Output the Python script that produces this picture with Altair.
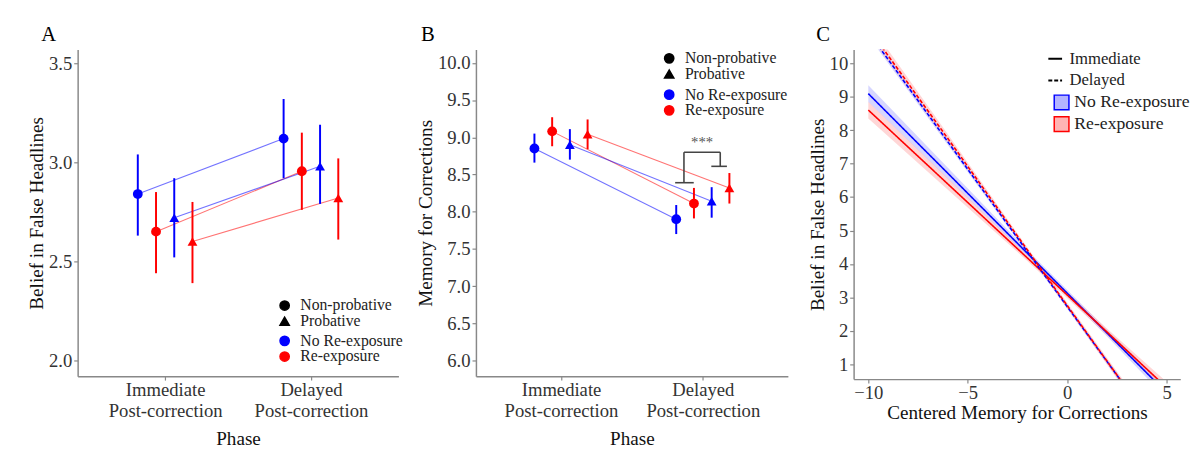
import json
import altair as alt
import pandas as pd

FONT = "Liberation Serif"
BLUE = "#0000ff"
RED = "#ff0000"
BAND_BLUE = "#b4b4ff"
BAND_RED = "#ffb4b4"

# ---------------- data ----------------
phase_pos = [1, 2]
phase_labels = [["Immediate", "Post-correction"], ["Delayed", "Post-correction"]]
probative_levels = ["Non-probative", "Probative"]
exposure_levels = ["No Re-exposure", "Re-exposure"]

# Panel A: belief in false headlines (mean, lower, upper) for [Immediate, Delayed]
a_np_no_mean = [2.84, 3.12]
a_np_no_lo = [2.63, 2.92]
a_np_no_hi = [3.04, 3.32]
a_np_re_mean = [2.65, 2.955]
a_np_re_lo = [2.44, 2.76]
a_np_re_hi = [2.85, 3.15]
a_p_no_mean = [2.72, 2.98]
a_p_no_lo = [2.52, 2.79]
a_p_no_hi = [2.92, 3.19]
a_p_re_mean = [2.60, 2.82]
a_p_re_lo = [2.39, 2.61]
a_p_re_hi = [2.80, 3.02]

# Panel B: memory for corrections
b_np_no_mean = [8.85, 7.90]
b_np_no_lo = [8.66, 7.70]
b_np_no_hi = [9.05, 8.09]
b_np_re_mean = [9.08, 8.11]
b_np_re_lo = [8.88, 7.91]
b_np_re_hi = [9.27, 8.32]
b_p_no_mean = [8.90, 8.14]
b_p_no_lo = [8.70, 7.92]
b_p_no_hi = [9.11, 8.33]
b_p_re_mean = [9.04, 8.32]
b_p_re_lo = [8.84, 8.11]
b_p_re_hi = [9.24, 8.52]

# significance bracket in panel B (data units):
# top bar, left foot, right leg, right foot, left leg
sig_x = [1.867, 1.805, 2.123, 2.06, 1.867]
sig_x2 = [2.123, 1.936, 2.123, 2.17, 1.867]
sig_y = [8.80, 8.39, 8.80, 8.61, 8.80]
sig_y2 = [8.80, 8.39, 8.61, 8.61, 8.39]
sig_label = "***"
sig_label_x = 1.995
sig_label_y = 8.93

# Panel C: fitted lines with confidence bands
c_x = [-10, -6, -2, 2, 5]
c_imm_no_fit = [9.09, 6.71, 4.32, 1.94, 0.15]
c_imm_no_lo = [8.84, 6.54, 4.23, 1.84, -0.02]
c_imm_no_hi = [9.34, 6.88, 4.41, 2.04, 0.32]
c_imm_re_fit = [8.60, 6.39, 4.18, 1.97, 0.31]
c_imm_re_lo = [8.35, 6.22, 4.09, 1.87, 0.14]
c_imm_re_hi = [8.85, 6.56, 4.27, 2.07, 0.48]
c_del_no_fit = [10.93, 7.65, 4.37, 1.09, -1.37]
c_del_no_lo = [10.81, 7.56, 4.31, 1.02, -1.47]
c_del_no_hi = [11.05, 7.74, 4.43, 1.16, -1.27]
c_del_re_fit = [11.05, 7.75, 4.42, 1.10, -1.38]
c_del_re_lo = [10.87, 7.62, 4.35, 1.00, -1.52]
c_del_re_hi = [11.23, 7.88, 4.49, 1.20, -1.24]
c_phases = ["Immediate", "Delayed"]

# ---------------- build tables ----------------
DODGE = {("Non-probative", "No Re-exposure"): -0.1875,
         ("Non-probative", "Re-exposure"): -0.0625,
         ("Probative", "No Re-exposure"): 0.0625,
         ("Probative", "Re-exposure"): 0.1875}


def long_table(series):
    rows = []
    for (prob, expo), (m, lo, hi) in series.items():
        for i, p in enumerate(phase_pos):
            rows.append(dict(series=prob + "|" + expo, probative=prob, exposure=expo,
                             xpos=p + DODGE[(prob, expo)], mean=m[i], lo=lo[i], hi=hi[i]))
    return pd.DataFrame(rows)


df_a = long_table({
    ("Non-probative", "No Re-exposure"): (a_np_no_mean, a_np_no_lo, a_np_no_hi),
    ("Non-probative", "Re-exposure"): (a_np_re_mean, a_np_re_lo, a_np_re_hi),
    ("Probative", "No Re-exposure"): (a_p_no_mean, a_p_no_lo, a_p_no_hi),
    ("Probative", "Re-exposure"): (a_p_re_mean, a_p_re_lo, a_p_re_hi),
})
df_b = long_table({
    ("Non-probative", "No Re-exposure"): (b_np_no_mean, b_np_no_lo, b_np_no_hi),
    ("Non-probative", "Re-exposure"): (b_np_re_mean, b_np_re_lo, b_np_re_hi),
    ("Probative", "No Re-exposure"): (b_p_no_mean, b_p_no_lo, b_p_no_hi),
    ("Probative", "Re-exposure"): (b_p_re_mean, b_p_re_lo, b_p_re_hi),
})

rows = []
for phase, expo, fit, lo, hi in [
    ("Immediate", "No Re-exposure", c_imm_no_fit, c_imm_no_lo, c_imm_no_hi),
    ("Immediate", "Re-exposure", c_imm_re_fit, c_imm_re_lo, c_imm_re_hi),
    ("Delayed", "No Re-exposure", c_del_no_fit, c_del_no_lo, c_del_no_hi),
    ("Delayed", "Re-exposure", c_del_re_fit, c_del_re_lo, c_del_re_hi),
]:
    for i, xv in enumerate(c_x):
        rows.append(dict(phase=phase, exposure=expo,
                         series=phase + "|" + expo, x=xv, fit=fit[i], lo=lo[i], hi=hi[i]))
df_c = pd.DataFrame(rows)

df_sig = pd.DataFrame(dict(x=sig_x, x2=sig_x2, y=sig_y, y2=sig_y2))
df_sig_txt = pd.DataFrame(dict(x=[sig_label_x], y=[sig_label_y], t=[sig_label]))

# ---------------- helpers ----------------
color_scale = alt.Scale(domain=exposure_levels, range=[BLUE, RED])
band_scale = alt.Scale(domain=exposure_levels, range=[BAND_BLUE, BAND_RED])
shape_scale = alt.Scale(domain=probative_levels, range=["circle", "triangle-up"])

label_expr = " : ".join(
    f"datum.value == {p} ? {json.dumps(l)}" for p, l in zip(phase_pos[:-1], phase_labels[:-1])
) + " : " + json.dumps(phase_labels[-1])

x_axis = alt.Axis(values=phase_pos, labelExpr=label_expr, title="Phase",
                  labelLineHeight=21, labelPadding=1, titlePadding=10)


def xenc(field):
    return alt.X(field, type="quantitative", scale=alt.Scale(domain=[0.4, 2.6], nice=False, zero=False),
                 axis=x_axis)


def letter_title(letter, dx):
    return alt.TitleParams(letter, anchor="start", frame="group", dx=dx, font=FONT, fontSize=21,
                           fontWeight="normal", color="black", offset=5)


def dodge_panel(df, ydom, yticks, ytitle, letter, dx, width, height, shape_xy, color_xy, extra=None):
    y_axis = alt.Axis(values=yticks, format=".1f", title=ytitle, titlePadding=2)

    def yenc(field):
        return alt.Y(field, type="quantitative",
                     scale=alt.Scale(domain=ydom, nice=False, zero=False), axis=y_axis)

    color_legend = alt.Legend(orient="none", legendX=color_xy[0], legendY=color_xy[1],
                              title=None, symbolType="circle", symbolSize=90, symbolOpacity=1,
                              labelFont=FONT, labelFontSize=16, labelColor="#222",
                              rowPadding=0, padding=0, labelOffset=8)
    shape_legend = alt.Legend(orient="none", legendX=shape_xy[0], legendY=shape_xy[1],
                              title=None, symbolSize=90, symbolFillColor="black",
                              symbolStrokeColor="black", symbolOpacity=1,
                              labelFont=FONT, labelFontSize=16, labelColor="#222",
                              rowPadding=0, padding=0, labelOffset=8)
    color = alt.Color("exposure:N", scale=color_scale, legend=color_legend)

    base = alt.Chart(df)
    lines = base.mark_line(strokeWidth=1.1, opacity=0.55).encode(
        x=xenc("xpos"), y=yenc("mean"), color=color, detail="series:N")
    errs = base.mark_rule(strokeWidth=2).encode(
        x=xenc("xpos"), y=yenc("lo"), y2="hi:Q", color=color)
    pts = base.mark_point(filled=True, size=100, opacity=1).encode(
        x=xenc("xpos"), y=yenc("mean"), color=color,
        shape=alt.Shape("probative:N", scale=shape_scale, legend=shape_legend))
    layers = [lines, errs, pts]
    if extra is not None:
        layers += extra(yenc)
    return alt.layer(*layers).properties(width=width, height=height,
                                         title=letter_title(letter, dx))


def sig_layers(yenc_):
    seg = alt.Chart(df_sig).mark_rule(color="#444444", strokeWidth=1.6).encode(
        x=xenc("x"), x2="x2:Q", y=yenc_("y"), y2="y2:Q")
    txt = alt.Chart(df_sig_txt).mark_text(font=FONT, fontSize=15, color="#555555",
                                          baseline="middle").encode(
        x=xenc("x"), y=yenc_("y"), text="t:N")
    return [seg, txt]


panel_a = dodge_panel(df_a, [1.92, 3.57], [2.0, 2.5, 3.0, 3.5], "Belief in False Headlines",
                      "A", -37, 327, 333, (203, 253), (203, 289))
panel_b = dodge_panel(df_b, [5.79, 10.18], [6.0, 6.5, 7.0, 7.5, 8.0, 8.5, 9.0, 9.5, 10.0],
                      "Memory for Corrections", "B", -56, 318, 333, (189, 1), (189, 38),
                      extra=sig_layers)

# Panel C
cx = alt.X("x:Q", scale=alt.Scale(domain=[-10.74, 5.69], nice=False, zero=False),
           axis=alt.Axis(values=[-10, -5, 0, 5], title="Centered Memory for Corrections",
                         labelPadding=1, titlePadding=1))
cy_axis = alt.Axis(values=list(range(1, 11)), title="Belief in False Headlines", titlePadding=2)
cy_scale = alt.Scale(domain=[0.56, 10.41], nice=False, zero=False)

c_exp_legend = alt.Legend(orient="none", legendX=203, legendY=45, title=None,
                          symbolType="square", symbolSize=225, symbolStrokeWidth=1.5,
                          symbolOpacity=1,
                          labelFont=FONT, labelFontSize=18, labelColor="#222",
                          rowPadding=0, padding=0, labelOffset=4)

c_base = alt.Chart(df_c)
bands = c_base.mark_area(fillOpacity=0.55, clip=True).encode(
    x=cx, y=alt.Y("lo:Q", scale=cy_scale, axis=cy_axis), y2="hi:Q",
    fill=alt.Fill("exposure:N", scale=band_scale, legend=c_exp_legend),
    detail="series:N")
clines = c_base.mark_line(strokeWidth=1.6, clip=True).encode(
    x=cx, y=alt.Y("fit:Q", scale=cy_scale, axis=cy_axis),
    stroke=alt.Stroke("exposure:N", scale=color_scale, legend=c_exp_legend),
    strokeDash=alt.StrokeDash("phase:N", scale=alt.Scale(domain=c_phases, range=[[1, 0], [4, 2]]),
                              legend=alt.Legend(orient="none", legendX=197, legendY=1, title=None,
                                                symbolType="stroke", symbolSize=196,
                                                symbolStrokeColor="black", symbolStrokeWidth=2,
                                                labelFont=FONT, labelFontSize=17, labelColor="#222",
                                                rowPadding=4, padding=0, labelOffset=6)),
    detail="series:N")
panel_c = alt.layer(bands, clines).properties(width=333, height=336,
                                              title=letter_title("C", -38))

RES = dict(color="independent", shape="independent", stroke="independent",
           fill="independent", strokeDash="independent")

inner = alt.hconcat(panel_a, panel_b, spacing=79, bounds="flush") \
    .resolve_scale(**RES).resolve_legend(**RES)

chart = alt.hconcat(inner, panel_c, spacing=20) \
    .resolve_scale(**RES).resolve_legend(**RES) \
    .configure_view(stroke=None).configure_axis(
        grid=False, domainColor="#888888", domainWidth=1.5, tickColor="#888888", tickSize=4,
        tickWidth=1.2, labelFont=FONT, labelFontSize=19, labelColor="#333333",
        titleFont=FONT, titleFontSize=19.5, titleFontWeight="normal", titleColor="#111111"
    ).properties(padding={"left": 19, "top": 12, "right": 5, "bottom": 0}, background="white")

chart.save("out.html", embed_options={"renderer": "svg", "actions": False})
